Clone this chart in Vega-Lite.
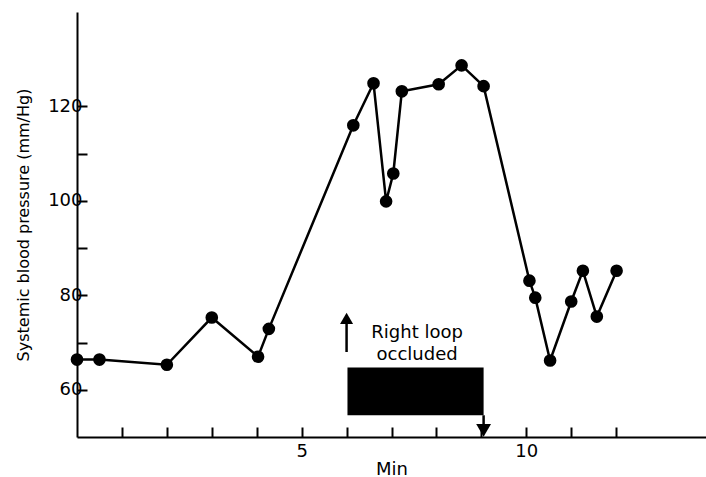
{
  "$schema": "https://vega.github.io/schema/vega-lite/v6.json",
  "width": 629,
  "height": 425,
  "autosize": {"type": "none"},
  "padding": {"left": 77, "top": 12, "right": 0, "bottom": 40},
  "background": "white",
  "config": {
    "view": {"stroke": null},
    "font": "DejaVu Sans",
    "axis": {
      "domainColor": "black",
      "domainWidth": 2,
      "tickColor": "black",
      "tickWidth": 2,
      "tickSize": -10,
      "grid": false,
      "labelColor": "black",
      "titleColor": "black",
      "labelFont": "DejaVu Sans",
      "titleFont": "DejaVu Sans",
      "labelFontSize": 18,
      "titleFontSize": 16,
      "titleFontWeight": "normal"
    }
  },
  "datasets": {
    "bp": [
      {"t": 0.0, "bp": 66.4},
      {"t": 0.5, "bp": 66.4},
      {"t": 2.0, "bp": 65.3},
      {"t": 3.0, "bp": 75.3},
      {"t": 4.03, "bp": 67.0},
      {"t": 4.27, "bp": 72.9},
      {"t": 6.15, "bp": 116.0},
      {"t": 6.6, "bp": 124.9},
      {"t": 6.88, "bp": 99.9},
      {"t": 7.04, "bp": 105.8},
      {"t": 7.23, "bp": 123.2},
      {"t": 8.05, "bp": 124.7},
      {"t": 8.56, "bp": 128.7},
      {"t": 9.05, "bp": 124.3},
      {"t": 10.07, "bp": 83.1},
      {"t": 10.2, "bp": 79.5},
      {"t": 10.53, "bp": 66.2},
      {"t": 11.0, "bp": 78.7},
      {"t": 11.26, "bp": 85.2},
      {"t": 11.57, "bp": 75.5},
      {"t": 12.01, "bp": 85.2}
    ],
    "block": [{"t0": 6.02, "t1": 9.05, "y0": 54.6, "y1": 64.7}],
    "arrows": [
      {"t": 6.0, "y0": 68.0, "y1": 74.5, "head": 75.1, "dir": "triangle-up", "sz": 170},
      {"t": 9.05, "y0": 54.6, "y1": 52.0, "head": 51.4, "dir": "triangle-down", "sz": 220}
    ],
    "note": [{"t": 7.57, "y": 72.0, "label": "Right loop\noccluded"}]
  },
  "layer": [
    {
      "data": {"name": "block"},
      "mark": {"type": "rect", "color": "black"},
      "encoding": {
        "x": {"field": "t0", "type": "quantitative", "scale": {"domain": [0, 14], "nice": false, "zero": false},
          "axis": {"values": [1,2,3,4,5,6,7,8,9,10,11,12], "labelExpr": "datum.value == 5 || datum.value == 10 ? datum.label : ''", "labelPadding": 15, "title": "Min", "titleFontSize": 18, "titlePadding": 0, "labelFlush": false}},
        "x2": {"field": "t1"},
        "y": {"field": "y0", "type": "quantitative", "scale": {"domain": [50, 140], "nice": false, "zero": false},
          "axis": {"values": [60,70,80,90,100,110,120], "labelExpr": "datum.value % 20 == 0 ? datum.label : ''", "labelPadding": 5, "title": "Systemic blood pressure (mm/Hg)", "titlePadding": 16}},
        "y2": {"field": "y1"}
      }
    },
    {
      "data": {"name": "arrows"},
      "mark": {"type": "rule", "color": "black", "strokeWidth": 2.5},
      "encoding": {
        "x": {"field": "t", "type": "quantitative"},
        "y": {"field": "y0", "type": "quantitative"},
        "y2": {"field": "y1"}
      }
    },
    {
      "data": {"name": "arrows"},
      "mark": {"type": "point", "filled": true, "color": "black", "opacity": 1},
      "encoding": {
        "x": {"field": "t", "type": "quantitative"},
        "y": {"field": "head", "type": "quantitative"},
        "shape": {"field": "dir", "type": "nominal", "scale": null, "legend": null},
        "size": {"field": "sz", "type": "quantitative", "scale": null, "legend": null}
      }
    },
    {
      "data": {"name": "note"},
      "mark": {"type": "text", "color": "black", "fontSize": 18, "lineHeight": 22, "align": "center", "baseline": "middle", "lineBreak": "\n", "font": "DejaVu Sans"},
      "encoding": {
        "x": {"field": "t", "type": "quantitative"},
        "y": {"field": "y", "type": "quantitative"},
        "text": {"field": "label"}
      }
    },
    {
      "data": {"name": "bp"},
      "mark": {"type": "line", "color": "black", "strokeWidth": 2.5, "point": {"filled": true, "color": "black", "size": 160, "opacity": 1}},
      "encoding": {
        "x": {"field": "t", "type": "quantitative"},
        "y": {"field": "bp", "type": "quantitative"}
      }
    }
  ]
}
